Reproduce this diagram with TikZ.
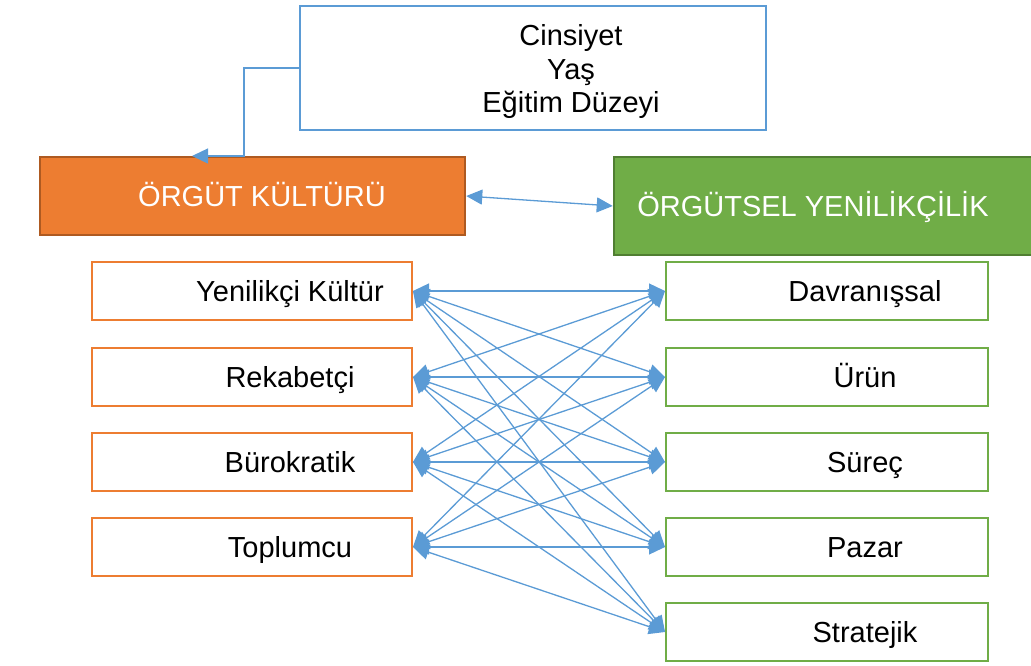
\documentclass[tikz,border=0pt]{standalone}
\usepackage{fontspec}
\setmainfont{Liberation Sans}
\usepackage{xcolor}
\usepackage{tikz}
\usetikzlibrary{positioning, arrows.meta}
\definecolor{blu}{HTML}{5B9BD5}
\definecolor{org}{HTML}{ED7D31}
\definecolor{orgdark}{HTML}{AE5A21}
\definecolor{grn}{HTML}{70AD47}
\definecolor{grndark}{HTML}{507E32}

\begin{document}
\begin{tikzpicture}[x=1pt,y=-1pt]
        \tikzset{box/.style = {draw, line width=2pt, fill=white, minimum width=320pt, minimum height=58pt, inner sep=0pt}}
        \tikzset{kbox/.style = {box, draw=org}}
        \tikzset{ybox/.style = {box, draw=grn, minimum width=322pt}}
        \tikzset{txt/.style = {font=\fontsize{29}{33.5}\selectfont, inner sep=0pt}}
        \tikzset{lbl/.style = {txt, text height=20.8pt, text depth=0pt}}
        \tikzset{link/.style = {blu, line width=1.3pt, {Triangle[length=16pt,width=15pt]}-{Triangle[length=16pt,width=15pt]}}}
        \tikzset{onelink/.style = {blu, line width=1.3pt, -{Triangle[length=16pt,width=15pt]}}}

        \useasboundingbox (0,0) rectangle (1031,666);

        % top box
        \node[box, draw=blu, minimum width=466pt, minimum height=124pt] (info) at (533,68) {};
        \node[txt, align=center] (infot) at (571,72) {Cinsiyet\\Yaş\\Eğitim Düzeyi};

        % main boxes
        \node[draw=orgdark, fill=org, line width=2.5pt, minimum width=425pt, minimum height=78pt] (kul) at (252.5,196) {};
        \node[lbl, white] (kult) at (262,196) {ÖRGÜT KÜLTÜRÜ};
        \node[draw=grndark, fill=grn, line width=2.5pt, minimum width=426pt, minimum height=98pt] (yen) at (827,206) {};
        \node[lbl, white] (yent) at (813,206) {ÖRGÜTSEL YENİLİKÇİLİK};

        % left boxes
        \node[kbox] (l1) at (252,291) {};
        \node[kbox] (l2) at (252,377) {};
        \node[kbox] (l3) at (252,462) {};
        \node[kbox] (l4) at (252,547) {};
        \node[lbl] (l1t) at (290,291) {Yenilikçi Kültür};
        \node[lbl] (l2t) at (290,377) {Rekabetçi};
        \node[lbl] (l3t) at (290,462) {Bürokratik};
        \node[lbl] (l4t) at (290,547) {Toplumcu};

        % right boxes
        \node[ybox] (r1) at (827,291) {};
        \node[ybox] (r2) at (827,377) {};
        \node[ybox] (r3) at (827,462) {};
        \node[ybox] (r4) at (827,547) {};
        \node[ybox] (r5) at (827,632) {};
        \node[lbl] (r1t) at (865,291) {Davranışsal};
        \node[lbl] (r2t) at (865,377) {Ürün};
        \node[lbl] (r3t) at (865,462) {Süreç};
        \node[lbl] (r4t) at (865,547) {Pazar};
        \node[lbl] (r5t) at (865,632) {Stratejik};

        % connectors
        \coordinate (tipk) at (192,156);
        \draw[onelink] (info.west) -- ++(-55,0) |- (tipk);
        \draw[link] (kul.east) -- (yen.west);

        \draw[link] (l1.east) -- (r1.west);
        \draw[link] (l1.east) -- (r2.west);
        \draw[link] (l1.east) -- (r3.west);
        \draw[link] (l1.east) -- (r4.west);
        \draw[link] (l1.east) -- (r5.west);

        \draw[link] (l2.east) -- (r1.west);
        \draw[link] (l2.east) -- (r2.west);
        \draw[link] (l2.east) -- (r3.west);
        \draw[link] (l2.east) -- (r4.west);
        \draw[link] (l2.east) -- (r5.west);

        \draw[link] (l3.east) -- (r1.west);
        \draw[link] (l3.east) -- (r2.west);
        \draw[link] (l3.east) -- (r3.west);
        \draw[link] (l3.east) -- (r4.west);
        \draw[link] (l3.east) -- (r5.west);

        \draw[link] (l4.east) -- (r1.west);
        \draw[link] (l4.east) -- (r2.west);
        \draw[link] (l4.east) -- (r3.west);
        \draw[link] (l4.east) -- (r4.west);
        \draw[link] (l4.east) -- (r5.west);

\end{tikzpicture}
\end{document}
